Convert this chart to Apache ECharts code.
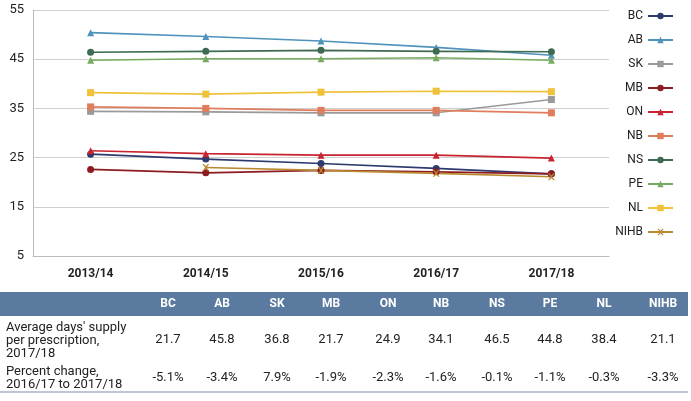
<!DOCTYPE html>
<html><head><meta charset="utf-8">
<script src="https://cdn.jsdelivr.net/npm/echarts@6/dist/echarts.min.js"></script>
<style>html,body{margin:0;padding:0;background:#fff}#c{width:691px;height:401px}</style>
</head><body><div id="c"></div>
<script>
const years = ['2013/14','2014/15','2015/16','2016/17','2017/18'];
const BC   = [25.7, 24.7, 23.8, 22.8, 21.7];
const AB   = [50.4, 49.6, 48.7, 47.4, 45.8];
const SK   = [34.4, 34.3, 34.1, 34.1, 36.8];
const MB   = [22.6, 21.9, 22.4, 22.1, 21.7];
const ON   = [26.4, 25.8, 25.5, 25.5, 24.9];
const NB   = [35.3, 35.0, 34.6, 34.6, 34.1];
const NS   = [46.4, 46.6, 46.8, 46.6, 46.5];
const PE   = [44.8, 45.1, 45.1, 45.3, 44.8];
const NL   = [38.2, 37.9, 38.3, 38.5, 38.4];
const NIHB = [null, 23.0, 22.4, 21.8, 21.1];
const yTicks = [5, 15, 25, 35, 45, 55];

const tableCols = ['BC','AB','SK','MB','ON','NB','NS','PE','NL','NIHB'];
const avgDays   = ['21.7','45.8','36.8','21.7','24.9','34.1','46.5','44.8','38.4','21.1'];
const pctChange = ['-5.1%','-3.4%','7.9%','-1.9%','-2.3%','-1.6%','-0.1%','-1.1%','-0.3%','-3.3%'];
const rowLabel1 = "Average days' supply\nper prescription,\n2017/18";
const rowLabel2 = "Percent change,\n2016/17 to 2017/18";

const seriesDefs = [
  ['BC', BC, '#2d3a6e', 'circle', 7],
  ['AB', AB, '#4f93bd', 'triangle', 7],
  ['SK', SK, '#9a9a9a', 'rect', 7],
  ['MB', MB, '#8c1c22', 'circle', 7],
  ['ON', ON, '#c8232f', 'triangle', 7],
  ['NB', NB, '#e07d5c', 'rect', 7],
  ['NS', NS, '#3e6b52', 'circle', 7],
  ['PE', PE, '#78ab62', 'triangle', 7],
  ['NL', NL, '#efc23a', 'rect', 7],
  ['NIHB', NIHB, '#b98a30', 'path://M0,0L2,0L5,3L8,0L10,0L6,5L10,10L8,10L5,7L2,10L0,10L4,5Z', 7]
];

const FONT = 'Roboto';
const chart = echarts.init(document.getElementById('c'), null, {renderer:'canvas'});

const colX = [168, 222, 277, 331, 388, 441, 497, 550, 604, 663];
const graphics = [];
graphics.push({type:'rect', shape:{x:0, y:292, width:688, height:24}, style:{fill:'#5b7aa0'}});
graphics.push({type:'line', shape:{x1:0, y1:392, x2:688, y2:392}, style:{stroke:'#7f8fa3', lineWidth:1.2}});
tableCols.forEach((c,i)=>{
  graphics.push({type:'text', x:colX[i], y:304, style:{text:c, fill:'#fff', font:'bold 12px '+FONT, align:'center', verticalAlign:'middle'}});
  graphics.push({type:'text', x:colX[i], y:340, style:{text:avgDays[i], fill:'#222', font:'13px '+FONT, align:'center', verticalAlign:'middle'}});
  graphics.push({type:'text', x:colX[i], y:378, style:{text:pctChange[i], fill:'#222', font:'13px '+FONT, align:'center', verticalAlign:'middle'}});
});
graphics.push({type:'text', x:6, y:341, style:{text:rowLabel1, fill:'#222', font:'13px '+FONT, lineHeight:12.8, align:'left', verticalAlign:'middle'}});
graphics.push({type:'text', x:6, y:378, style:{text:rowLabel2, fill:'#222', font:'13px '+FONT, lineHeight:13, align:'left', verticalAlign:'middle'}});

chart.setOption({
  animation:false,
  textStyle:{fontFamily:FONT},
  grid:{left:33, right:82, top:10, bottom:145},
  legend:{
    orient:'vertical', right:12, top:5, align:'right',
    itemWidth:25, itemHeight:8, itemGap:12,
    textStyle:{fontSize:12, color:'#222', fontFamily:FONT},
    data: seriesDefs.map(d=>d[0])
  },
  xAxis:{
    type:'category', data:years, boundaryGap:true,
    axisLine:{lineStyle:{color:'#bbb'}}, axisTick:{show:false},
    axisLabel:{color:'#222', fontSize:12, fontWeight:'bold', margin:12}
  },
  yAxis:{
    type:'value', min:5, max:55, interval:10,
    axisLine:{show:true, lineStyle:{color:'#bbb'}}, axisTick:{show:false},
    splitLine:{lineStyle:{color:'#cfcfcf'}},
    axisLabel:{color:'#222', fontSize:13, margin:9}
  },
  series: seriesDefs.map(d=>({
    name:d[0], type:'line', data:d[1], color:d[2],
    symbol:d[3], symbolSize:d[4], showSymbol:true,
    lineStyle:{width:1.6, color:d[2]}, itemStyle:{color:d[2]},
    connectNulls:false
  })),
  graphic: graphics
});
</script></body></html>
